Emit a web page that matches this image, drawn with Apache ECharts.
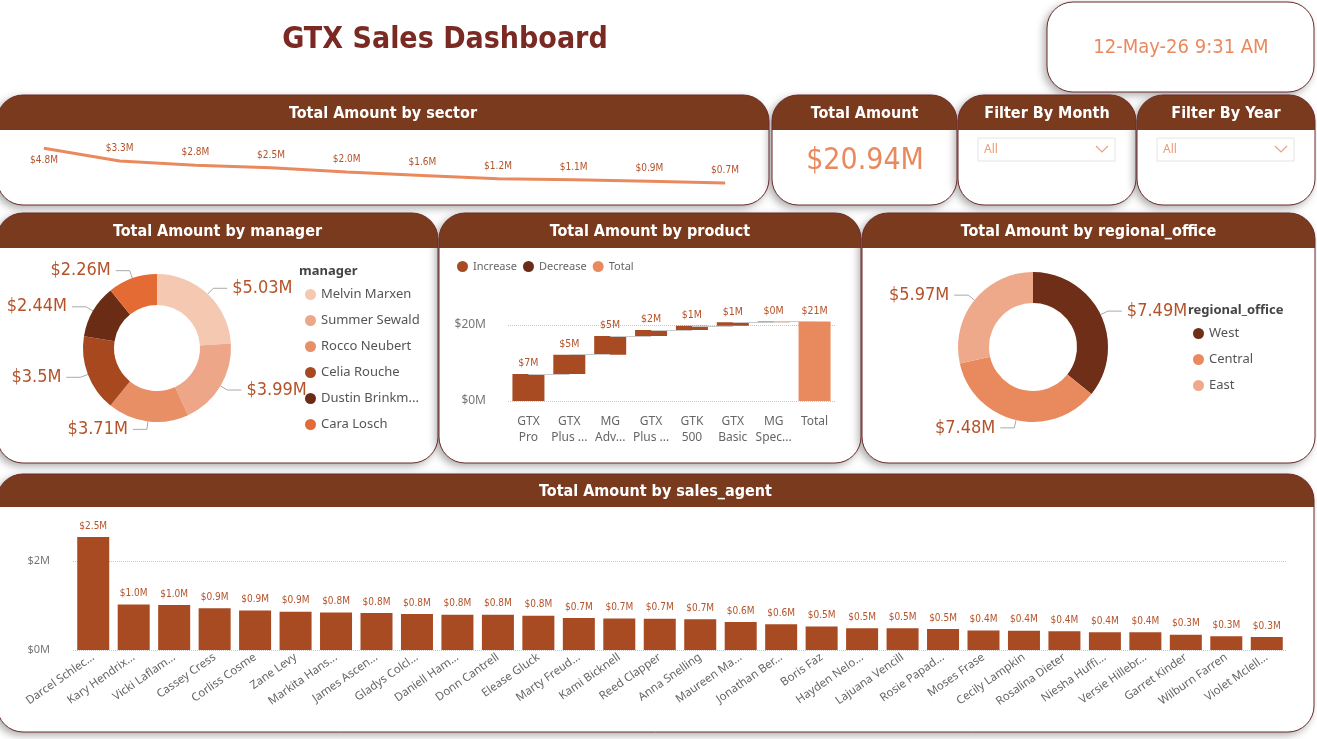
<!DOCTYPE html>
<html><head><meta charset="utf-8">
<script src="https://cdn.jsdelivr.net/npm/echarts@6/dist/echarts.min.js"></script>
<style>html,body{margin:0;padding:0;background:#fff;}#c{width:1317px;height:739px;}</style>
</head><body><div id="c"></div>
<script>
// ---------- DATA ----------
const sectorNames = ['technolgy','retail','medical','software','marketing','entertainment','finance','employment','services','telecommunications'];
const sectorValues = [4.8, 3.3, 2.8, 2.5, 2.0, 1.6, 1.2, 1.1, 0.9, 0.7];

const managerNames = ['Melvin Marxen','Summer Sewald','Rocco Neubert','Celia Rouche','Dustin Brinkmann','Cara Losch'];
const managerValues = [5.03, 3.99, 3.71, 3.5, 2.44, 2.26];

const productNames = ['GTX Pro','GTX Plus Pro','MG Advanced','GTX Plus Basic','GTK 500','GTX Basic','MG Special'];
const productValues = [7.1, 5.1, 4.9, 1.6, 1.1, 0.9, 0.24];
const productTickLabels = ['GTX\nPro','GTX\nPlus ...','MG\nAdv...','GTX\nPlus ...','GTK\n500','GTX\nBasic','MG\nSpec...','Total'];

const regionNames = ['West','Central','East'];
const regionValues = [7.49, 7.48, 5.97];

const agentLabels = ['Darcel Schlec...','Kary Hendrix...','Vicki Laflam...','Cassey Cress','Corliss Cosme','Zane Levy','Markita Hans...','James Ascen...','Gladys Colcl...','Daniell Ham...','Donn Cantrell','Elease Gluck','Marty Freud...','Kami Bicknell','Reed Clapper','Anna Snelling','Maureen Ma...','Jonathan Ber...','Boris Faz','Hayden Nelo...','Lajuana Vencill','Rosie Papad...','Moses Frase','Cecily Lampkin','Rosalina Dieter','Niesha Huffi...','Versie Hillebr...','Garret Kinder','Wilburn Farren','Violet Mclell...'];
const agentValues = [2.54,1.02,1.01,0.94,0.89,0.86,0.84,0.83,0.81,0.79,0.79,0.77,0.72,0.71,0.70,0.69,0.63,0.58,0.53,0.49,0.49,0.47,0.44,0.43,0.42,0.40,0.40,0.34,0.31,0.29];

const totalAmountText = '$20.94M';
const dateText = '12-May-26 9:31 AM';

// ---------- STYLE ----------
const DIN = "'DejaVu Sans Condensed','Liberation Sans Narrow',sans-serif";
const UI = "'Noto Sans','Open Sans',sans-serif";
const HEADER = '#793A1E';
const BAR = '#A84A22';
const DARK = '#6B2C15';
const ORANGE = '#E98A5E';
const LABEL = '#B4532A';
const managerColors = ['#F5C8B2','#EDA688','#E98F66','#A8481F','#6B2C15','#E56B35'];
const regionColors = ['#6E2E17','#E98A5E','#EEA88A'];

function card(x, y, w, h, title, hh) {
  const r = 26;
  const els = [{
    type: 'rect', z: -5, shape: {x, y, width: w, height: h, r},
    style: {fill: '#fff', shadowBlur: 8, shadowColor: 'rgba(0,0,0,0.35)', shadowOffsetX: -3, shadowOffsetY: 3}
  }];
  if (title) {
    els.push({type: 'rect', z: -4, shape: {x, y, width: w, height: hh, r: [r, r, 0, 0]}, style: {fill: HEADER}});
    els.push({type: 'text', z: 20, style: {text: title, x: x + w / 2, y: y + hh / 2 + 1, textAlign: 'center', textVerticalAlign: 'middle', fill: '#fff', font: 'bold 16px ' + DIN}});
  }
  els.push({type: 'rect', z: -3, shape: {x, y, width: w, height: h, r}, style: {fill: 'none', stroke: '#6A2B2B', lineWidth: 1}});
  return els;
}

function dropdown(x, y) {
  return [
    {type: 'rect', z: 5, shape: {x, y, width: 137, height: 23}, style: {fill: '#fff', stroke: '#E4E4E4', lineWidth: 1}},
    {type: 'text', z: 6, style: {text: 'All', x: x + 6, y: y + 12, textVerticalAlign: 'middle', fill: '#EA9A74', font: '12px ' + UI}},
    {type: 'polyline', z: 6, shape: {points: [[x + 118, y + 8], [x + 124, y + 14], [x + 130, y + 8]]}, style: {stroke: '#EAA082', lineWidth: 1.2, fill: 'none'}}
  ];
}

const graphics = [].concat(
  [{type: 'text', z: 20, style: {text: 'GTX Sales Dashboard', x: 445, y: 40, textAlign: 'center', textVerticalAlign: 'middle', fill: '#7A2A22', font: 'bold 30px ' + DIN}}],
  card(1047, 2, 267, 90, null, 0),
  [{type: 'text', z: 20, style: {text: dateText, x: 1181, y: 48, textAlign: 'center', textVerticalAlign: 'middle', fill: ORANGE, font: '20px ' + DIN}}],
  card(-3, 95, 772, 110, 'Total Amount by sector', 35),
  card(772, 95, 185, 110, 'Total Amount', 35),
  [{type: 'text', z: 20, style: {text: totalAmountText, x: 865, y: 161, textAlign: 'center', textVerticalAlign: 'middle', fill: ORANGE, font: '30px ' + DIN}}],
  card(958, 95, 178, 110, 'Filter By Month', 35),
  dropdown(978, 138),
  card(1137, 95, 178, 110, 'Filter By Year', 35),
  dropdown(1157, 138),
  card(-3, 213, 441, 250, 'Total Amount by manager', 35),
  [{type: 'text', z: 20, style: {text: 'manager', x: 299, y: 271, textVerticalAlign: 'middle', fill: '#444', font: 'bold 13px ' + UI}}],
  card(439, 213, 422, 250, 'Total Amount by product', 35),
  card(862, 213, 453, 250, 'Total Amount by regional_office', 35),
  [{type: 'text', z: 20, style: {text: 'regional_office', x: 1188, y: 310, textVerticalAlign: 'middle', fill: '#444', font: 'bold 13px ' + UI}}],
  card(-3, 474, 1317, 258, 'Total Amount by sales_agent', 33)
);

// waterfall helpers (built from productValues)
const base = [];
let run = 0;
productValues.forEach(v => { base.push(run); run += v; });
const productTotal = run;
const wfCats = productNames.concat(['Total']);
const fmtM = v => '$' + Math.round(v) + 'M';
// connector segments between consecutive bar tops
const connectors = [];
{
  let c = 0;
  productValues.forEach((v, i) => {
    c += v;
    connectors.push([{coord: [i, c]}, {coord: [i + 1, c]}]);
  });
}

const pieLabel = {formatter: p => '$' + p.value + 'M', color: LABEL, fontSize: 18, fontFamily: DIN, overflow: 'none', width: 200};

const option = {
  animation: false,
  backgroundColor: '#fff',
  graphic: {elements: graphics},
  legend: [
    {
      data: managerNames, orient: 'vertical', left: 300, top: 283, itemGap: 13, icon: 'circle',
      itemWidth: 11, itemHeight: 11, textStyle: {fontSize: 13, color: '#555', fontFamily: UI},
      formatter: n => n.length > 14 ? n.slice(0, 13) + '...' : n
    },
    {
      data: ['Increase', 'Decrease', 'Total'], left: 452, top: 256, itemGap: 6, icon: 'circle',
      itemWidth: 11, itemHeight: 11, textStyle: {fontSize: 11, color: '#666', fontFamily: UI}
    },
    {
      data: regionNames, orient: 'vertical', left: 1188, top: 322, itemGap: 13, icon: 'circle',
      itemWidth: 11, itemHeight: 11, textStyle: {fontSize: 13, color: '#555', fontFamily: UI}
    }
  ],
  grid: [
    {left: 44, width: 681, top: 138, height: 51},
    {left: 508, width: 327, top: 302.2, height: 98.8},
    {left: 73, width: 1214, top: 516.5, height: 133.5}
  ],
  xAxis: [
    {gridIndex: 0, type: 'category', data: sectorNames, boundaryGap: false, show: false},
    {gridIndex: 1, type: 'category', data: wfCats, axisLine: {show: false}, axisTick: {show: false},
      axisLabel: {formatter: (v, i) => productTickLabels[i], color: '#666', fontSize: 12, lineHeight: 16, margin: 13, fontFamily: UI, interval: 0}},
    {gridIndex: 2, type: 'category', data: agentLabels, axisLine: {show: false}, axisTick: {show: false},
      axisLabel: {rotate: 35, color: '#666', fontSize: 11.5, margin: 6, fontFamily: UI, interval: 0}}
  ],
  yAxis: [
    {gridIndex: 0, type: 'value', min: 0, max: 6, show: false},
    {gridIndex: 1, type: 'value', min: 0, max: 26, interval: 20,
      axisLabel: {formatter: v => '$' + v + 'M', color: '#777', fontSize: 12, margin: 22, fontFamily: UI, showMaxLabel: false},
      splitLine: {showMaxLine: false, lineStyle: {type: 'dotted', color: '#C8C8C8'}}},
    {gridIndex: 2, type: 'value', min: 0, max: 3, interval: 2,
      axisLabel: {formatter: v => '$' + v + 'M', color: '#777', fontSize: 11, margin: 23, fontFamily: UI, showMaxLabel: false},
      splitLine: {showMaxLine: false, lineStyle: {type: 'dotted', color: '#C8C8C8'}}}
  ],
  series: [
    {
      name: 'sector', type: 'line', xAxisIndex: 0, yAxisIndex: 0, symbol: 'circle', symbolSize: 1, showSymbol: true,
      lineStyle: {width: 3, color: ORANGE}, itemStyle: {color: ORANGE},
      data: sectorValues.map((v, i) => i === 0 ? {value: v, label: {position: 'bottom', distance: 7}} : v),
      label: {show: true, position: 'top', distance: 7, formatter: p => '$' + p.value.toFixed(1) + 'M', color: LABEL, fontSize: 10, fontFamily: DIN}
    },
    {
      name: 'base', type: 'bar', xAxisIndex: 1, yAxisIndex: 1, stack: 'wf', barWidth: 32, silent: true,
      itemStyle: {color: 'transparent'}, data: base.concat(['-']),
      markLine: {silent: true, symbol: 'none', label: {show: false}, lineStyle: {color: '#C9C9C9', width: 1, type: 'solid'}, data: connectors}
    },
    {
      name: 'Increase', type: 'bar', xAxisIndex: 1, yAxisIndex: 1, stack: 'wf', barWidth: 32,
      itemStyle: {color: BAR}, data: productValues.concat(['-']), z: 3,
      label: {show: true, position: 'top', formatter: p => fmtM(p.value), color: LABEL, fontSize: 10.5, fontFamily: DIN, distance: 5}
    },
    {
      name: 'Decrease', type: 'bar', xAxisIndex: 1, yAxisIndex: 1, stack: 'wf', barWidth: 32,
      itemStyle: {color: DARK}, data: []
    },
    {
      name: 'Total', type: 'bar', xAxisIndex: 1, yAxisIndex: 1, stack: 'wf', barWidth: 32,
      itemStyle: {color: ORANGE}, data: productValues.map(() => '-').concat([productTotal]), z: 3,
      label: {show: true, position: 'top', formatter: p => fmtM(p.value), color: LABEL, fontSize: 10.5, fontFamily: DIN, distance: 5}
    },
    {
      name: 'agents', type: 'bar', xAxisIndex: 2, yAxisIndex: 2, barWidth: 32,
      itemStyle: {color: BAR}, data: agentValues,
      label: {show: true, position: 'top', formatter: p => '$' + p.value.toFixed(1) + 'M', color: LABEL, fontSize: 10, fontFamily: DIN, distance: 6}
    },
    {
      name: 'manager', type: 'pie', center: [157, 348], radius: [43, 74], startAngle: 90,
      data: managerNames.map((n, i) => ({name: n, value: managerValues[i], itemStyle: {color: managerColors[i]}})),
      label: pieLabel,
      labelLine: {length: 8, length2: 14, lineStyle: {color: '#AAA'}}
    },
    {
      name: 'regional_office', type: 'pie', center: [1033, 347], radius: [44, 75], startAngle: 90,
      data: regionNames.map((n, i) => ({name: n, value: regionValues[i], itemStyle: {color: regionColors[i]}})),
      label: pieLabel,
      labelLine: {length: 8, length2: 14, lineStyle: {color: '#AAA'}}
    }
  ]
};

const chart = echarts.init(document.getElementById('c'), null, {renderer: 'canvas'});
chart.setOption(option);
</script>
</body></html>
